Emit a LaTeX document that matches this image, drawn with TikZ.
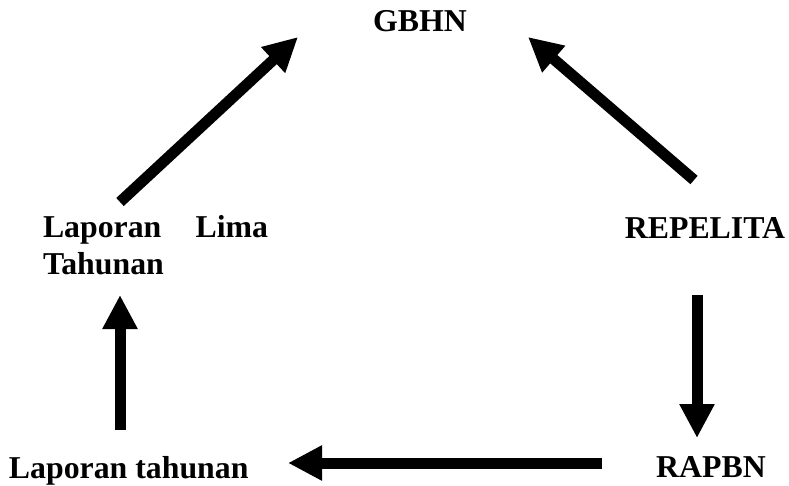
\documentclass[tikz,border=0pt]{standalone}
\usepackage{fontspec}
\setmainfont{Liberation Serif}
\usetikzlibrary{arrows.meta}
\begin{document}
\begin{tikzpicture}[x=1pt,y=-1pt,
  lbl/.style={inner sep=0pt,outer sep=0pt,font=\fontsize{31.8}{36}\selectfont\bfseries},
  bigarrow/.style={line width=11pt,-{Triangle[length=34pt,width=33pt]}}]
\useasboundingbox (0,0) rectangle (789,486);
% labels
\node[lbl,anchor=base] (gbhn) at (420,32) {GBHN};
\node[lbl,anchor=base] (repelita) at (705,239) {REPELITA};
\node[lbl,anchor=base] (rapbn) at (711,477) {RAPBN};
\node[lbl,anchor=base west] (lt) at (9,478) {Laporan tahunan};
\node[lbl,anchor=base west,text width=225pt,align=left] (llt) at (43,238) {Laporan\hfill Lima\\Tahunan};
% arrow end points
\coordinate (a1s) at (120,202);
\coordinate (a1e) at (298,37);
\coordinate (a2s) at (694,180);
\coordinate (a2e) at (528,37);
\coordinate (a3s) at (697,295);
\coordinate (a3e) at (697,438);
\coordinate (a4s) at (120,430);
\coordinate (a4e) at (120,295);
\coordinate (a5s) at (602,463);
\coordinate (a5e) at (288,463);
% arrows
\draw[bigarrow] (a1s) -- (a1e);
\draw[bigarrow] (a2s) -- (a2e);
\draw[bigarrow] (a3s) -- (a3e);
\draw[bigarrow] (a4s) -- (a4e);
\draw[bigarrow] (a5s) -- (a5e);
\end{tikzpicture}
\end{document}
